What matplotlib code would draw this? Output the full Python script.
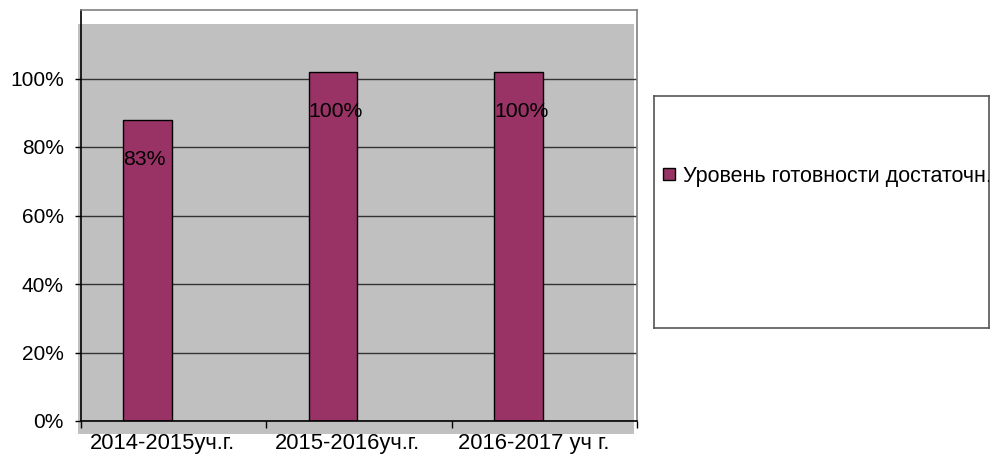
import matplotlib
matplotlib.use("Agg")
import matplotlib.pyplot as plt
import numpy as np
from matplotlib.patches import Rectangle

plt.rcParams['font.family'] = ['Liberation Sans', 'DejaVu Sans']

categories = ["2014-2015уч.г.", "2015-2016уч.г.", "2016-2017 уч г."]
bar_values = [0.88, 1.02, 1.02]
bar_labels = ["83%", "100%", "100%"]
series_name = "Уровень готовности достаточн."
y_ticks = [0.0, 0.2, 0.4, 0.6, 0.8, 1.0]
y_tick_labels = ["0%", "20%", "40%", "60%", "80%", "100%"]

W, H = 992, 458
fig = plt.figure(figsize=(W / 100, H / 100), dpi=100)

def fx(px):
    return px / W

def fy(py):
    return 1 - py / H

# gray plot-area fill (slightly offset, as in reference)
fig.patches.append(Rectangle((fx(78), fy(434)), fx(634) - fx(78), fy(24) - fy(434),
                             transform=fig.transFigure, facecolor="#C0C0C0",
                             edgecolor="none", zorder=-5))

ax = fig.add_axes([fx(81), fy(421), fx(637) - fx(81), fy(10) - fy(421)])
ax.set_facecolor("none")
ax.set_xlim(-0.5, 2.5)
ax.set_ylim(0, 1.2)

bar_color = "#993366"
x = np.arange(len(categories))
bar_w = 0.262
bar_x = x - 0.14
bars = ax.bar(bar_x, bar_values, width=bar_w, color=bar_color, edgecolor="black",
              linewidth=1, zorder=3)

for b, lab in zip(bars, bar_labels):
    ax.annotate(lab, xy=(b.get_x(), b.get_height()), xytext=(0, -27.4),
                textcoords="offset points", ha="left", va="center_baseline",
                fontsize=15.3, color="black", zorder=4)

ax.set_yticks(y_ticks)
ax.set_yticklabels(y_tick_labels, fontsize=15)
ax.yaxis.grid(True, color="#333333", linewidth=1)
ax.set_axisbelow(True)
ax.tick_params(axis="y", length=4.5, width=1, pad=8, color="black")

ax.set_xticks(x - 0.06)
ax.set_xticklabels(categories, fontsize=15.8)
ax.set_xticks(np.arange(-0.5, len(categories), 1.0), minor=True)
ax.tick_params(axis="x", which="major", length=0, pad=9)
ax.tick_params(axis="x", which="minor", length=5, width=1, color="black")

ax.spines["left"].set_color("black")
ax.spines["bottom"].set_color("black")
ax.spines["top"].set_color("#808080")
ax.spines["right"].set_color("#808080")
for s in ax.spines.values():
    s.set_linewidth(1.2)
ax.spines["bottom"].set_zorder(5)

# legend box
lax = fig.add_axes([fx(654), fy(328), fx(989) - fx(654), fy(96) - fy(328)])
lax.set_xlim(0, 1)
lax.set_ylim(0, 1)
lax.set_xticks([])
lax.set_yticks([])
lax.set_facecolor("white")
for s in lax.spines.values():
    s.set_color("#555555")
    s.set_linewidth(1.2)
lw_px = 989 - 654
lh_px = 328 - 96
lax.add_patch(Rectangle(((663 - 654) / lw_px, (328 - 180) / lh_px), 12 / lw_px, 12 / lh_px,
                        transform=lax.transAxes, facecolor=bar_color, edgecolor="black",
                        linewidth=1))
lax.text((683 - 654) / lw_px, (328 - 174) / lh_px, series_name, transform=lax.transAxes,
         ha="left", va="center_baseline", fontsize=15.5, clip_on=True)

fig.savefig("out.png", dpi=100)
